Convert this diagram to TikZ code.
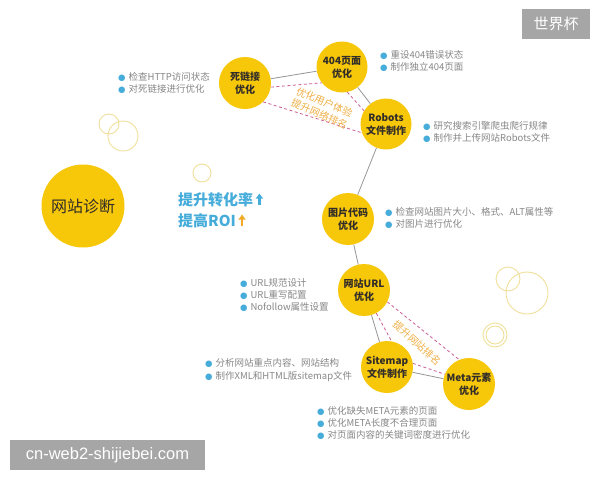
\documentclass[tikz,border=0pt]{standalone}
\usepackage{fontspec}
\setmainfont{Noto Sans CJK SC}
\newfontfamily\dejavu{DejaVu Sans}
\newfontfamily\latinsans{Liberation Sans}
\usetikzlibrary{arrows.meta}
\definecolor{nodeyellow}{RGB}{247,199,10}
\definecolor{ringyellow}{RGB}{240,224,155}
\definecolor{bblue}{RGB}{70,172,218}
\definecolor{tgray}{RGB}{135,135,135}
\definecolor{dashpink}{RGB}{205,95,150}
\definecolor{lblorange}{RGB}{240,175,70}
\definecolor{arrorange}{RGB}{240,170,40}
\definecolor{wmgray}{RGB}{166,166,166}
\definecolor{linegray}{RGB}{150,150,150}
\definecolor{nodetext}{RGB}{50,45,40}
\newcommand{\bul}{{\color{bblue}\dejavu\fontsize{8.5}{8}\selectfont ●}\hspace{3pt}}
\begin{document}
\begin{tikzpicture}[x=1pt,y=-1pt,
  topic/.style={circle, fill=nodeyellow, minimum size=52pt, inner sep=0pt, align=center,
    text=nodetext, font=\bfseries\fontsize{10}{13}\selectfont},
  bigtopic/.style={circle, fill=nodeyellow, minimum size=83pt, inner sep=0pt,
    text=nodetext, font=\fontsize{16}{18}\selectfont},
  itemlist/.style={anchor=west, inner sep=0pt, align=left, text=tgray,
    font=\fontsize{9.5}{12.2}\selectfont},
  link/.style={draw=linegray, line width=0.8pt},
  dlink/.style={draw=dashpink, line width=0.8pt, dash pattern=on 3pt off 2.5pt},
  ring/.style={draw=ringyellow, line width=0.9pt},
  dlabel/.style={text=lblorange, align=center, inner sep=0pt, font=\fontsize{10}{12.5}\selectfont},
  uparr/.style={-{Triangle[width=7pt,length=5pt]}, line width=2.6pt},
  watermark/.style={fill=wmgray, text=white, inner sep=0pt}
]
\fill[white] (0,0) rectangle (600,480);
\useasboundingbox (0,0) rectangle (600,480);

% decorative rings
\draw[ring] (109,124) circle (10);
\draw[ring] (123,136) circle (15);
\draw[ring] (202,173) circle (9);
\draw[ring] (508,279) circle (12);
\draw[ring] (527,293) circle (21);
\draw[ring] (495,335) circle (12);
\draw[ring] (495,335) circle (9);

% topics
\node[bigtopic] (diag) at (83,206) {网站诊断};
\node[topic] (dead) at (245,83) {死链接\\优化};
\node[topic, minimum size=51pt] (e404) at (342,67) {404页面\\优化};
\node[topic, minimum size=51pt] (robots) at (386,124) {Robots\\文件制作};
\node[topic] (img) at (348,219) {图片代码\\优化};
\node[topic] (url) at (364,290) {网站URL\\优化};
\node[topic] (sitemap) at (387,367) {Sitemap\\文件制作};
\node[topic] (meta) at (469,384) {Meta元素\\优化};

% solid chain
\draw[link] (dead) -- (e404) -- (robots) -- (img) -- (url) -- (sitemap) -- (meta);

% dashed triangles
\draw[dlink] (dead.-9) -- (e404.-142);
\draw[dlink] (dead.-46) -- (robots.200);
\draw[dlink] (e404.-78) -- (robots.149);
\draw[dlink] (url.-27) -- (meta.112);
\draw[dlink] (url.-62) -- (sitemap.80);
\draw[dlink] (sitemap.8) -- (meta.158);

\node[dlabel, rotate=-23] (lab1) at (322,108) {优化用户体验\\提升网络排名};
\node[dlabel, rotate=-42] (lab2) at (417,343) {提升网站排名};

% bullet lists
\node[itemlist] (l1) at (118,83) {\bul 检查HTTP访问状态\\\bul 对死链接进行优化};
\node[itemlist] (l2) at (380,61) {\bul 重设404错误状态\\\bul 制作独立404页面};
\node[itemlist] (l3) at (423,132) {\bul 研究搜索引擎爬虫爬行规律\\\bul 制作并上传网站Robots文件};
\node[itemlist] (l4) at (385,218) {\bul 检查网站图片大小、格式、ALT属性等\\\bul 对图片进行优化};
\node[itemlist] (l5) at (240,295) {\bul URL规范设计\\\bul URL重写配置\\\bul Nofollow属性设置};
\node[itemlist] (l6) at (205,370) {\bul 分析网站重点内容、网站结构\\\bul 制作XML和HTML版sitemap文件};
\node[itemlist] (l7) at (317,423) {\bul 优化缺失META元素的页面\\\bul 优化META长度不合理页面\\\bul 对页面内容的关键词密度进行优化};

% center goals
\node[anchor=west, inner sep=0pt, text=bblue, font=\bfseries\fontsize{15}{18}\selectfont] (conv) at (178,200) {提升转化率};
\node[anchor=west, inner sep=0pt, text=bblue, font=\bfseries\fontsize{15}{18}\selectfont] (roi) at (178,221) {提高ROI};
\draw[uparr, bblue] ([xshift=6pt,yshift=2pt]conv.south east) -- ([xshift=6pt,yshift=-1pt]conv.north east);
\draw[uparr, arrorange] ([xshift=6pt,yshift=2pt]roi.south east) -- ([xshift=6pt,yshift=-1pt]roi.north east);

% watermarks
\node[watermark, minimum width=68pt, minimum height=30pt, font=\fontsize{15}{15}\selectfont] (wm1) at (556,24) {世界杯};
\node[watermark, minimum width=195pt, minimum height=30pt, font=\latinsans\fontsize{16.5}{16.5}\selectfont] (wm2) at (107.5,455) {cn-web2-shijiebei.com};
\end{tikzpicture}
\end{document}
